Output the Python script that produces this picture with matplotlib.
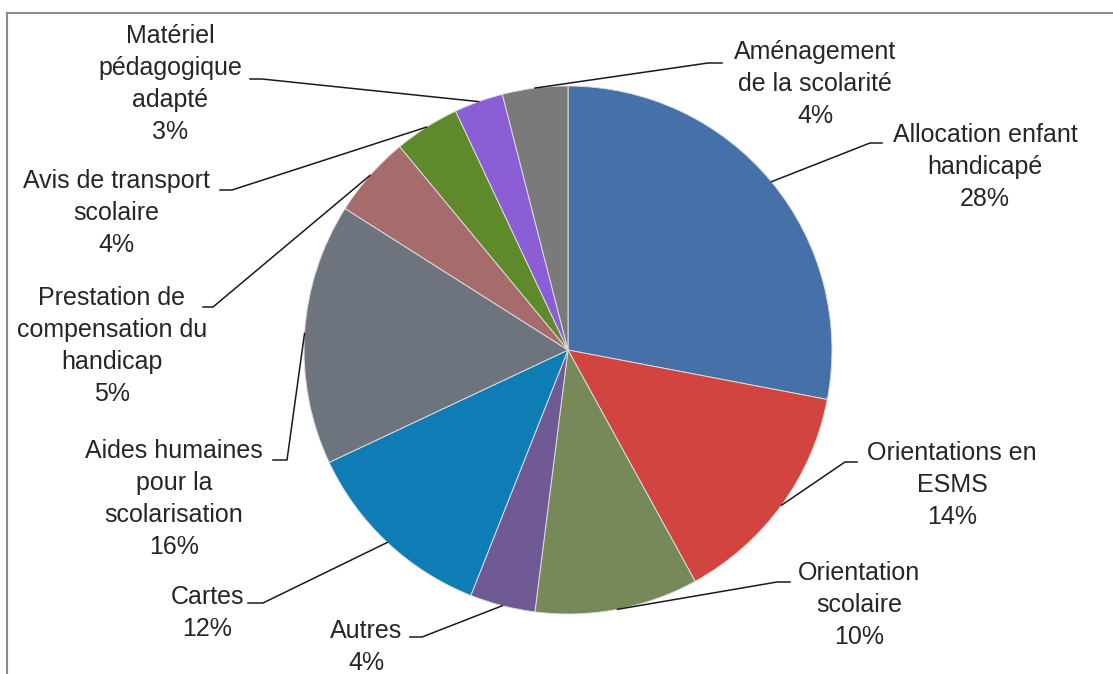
import numpy as np
import matplotlib
matplotlib.use("Agg")
import matplotlib.pyplot as plt

# Donnees
categories = ["Allocation enfant\nhandicapé", "Orientations en\nESMS", "Orientation\nscolaire",
              "Autres", "Cartes", "Aides humaines\npour la\nscolarisation",
              "Prestation de\ncompensation du\nhandicap", "Avis de transport\nscolaire",
              "Matériel\npédagogique\nadapté", "Aménagement\nde la scolarité"]
valeurs = [28, 14, 10, 4, 12, 16, 5, 4, 3, 4]
couleurs = ["#4571A8", "#D2443F", "#778859", "#705A95", "#0F7DB5",
            "#6E747E", "#A66B6B", "#5E8A2B", "#8C5ED6", "#7A7A7A"]

# position des etiquettes (pixels) et petit trait horizontal (x debut, x fin, y)
pos_etiq = [(985, 167), (952, 485), (859, 605), (366, 647), (207, 613),
            (174, 499), (112, 346), (116, 213), (170, 84), (815, 84)]
traits = [(882, 870, 143), (857, 845, 462), (790, 777, 582), (410, 422, 637), (248, 263, 603),
          (273, 287, 460), (203, 213, 307), (220, 232, 190), (250, 262, 79), (722, 708, 63)]

W, H = 1113, 674
cx, cy, R = 568, 350, 264


def px(x, y):
    return (x - cx) / R, (cy - y) / R


plt.rcParams["font.family"] = ["Liberation Sans", "DejaVu Sans"]
fig = plt.figure(figsize=(W / 100, H / 100), dpi=100)
ax = fig.add_axes([0, 0, 1, 1])

wedges, _ = ax.pie(valeurs, colors=couleurs, startangle=90, counterclock=False,
                   radius=1, center=(0, 0), frame=True,
                   wedgeprops=dict(edgecolor="#dcdcdc", linewidth=0.7))
ax.set_xlim(-cx / R, (W - cx) / R)
ax.set_ylim(-(H - cy) / R, cy / R)
ax.axis("off")

total = sum(valeurs)
for w, cat, v, (lx, ly), (x0, x1, yt) in zip(wedges, categories, valeurs, pos_etiq, traits):
    ang = np.deg2rad((w.theta1 + w.theta2) / 2)
    ex, ey = np.cos(ang), np.sin(ang)
    a = px(x0, yt)
    b = px(x1, yt)
    ax.plot([a[0], b[0], ex], [a[1], b[1], ey], color="#1a1a1a", lw=1.1, zorder=3)
    tx, ty = px(lx, ly)
    ax.text(tx, ty, f"{cat}\n{v / total * 100:.0f}%", ha="center", va="center",
            fontsize=18, color="#262626", linespacing=1.42)

# cadre
fig.add_artist(plt.Line2D([7 / W, 1], [1 - 13 / H, 1 - 13 / H], color="#8c8c8c", lw=1.5))
fig.add_artist(plt.Line2D([7 / W, 7 / W], [0, 1 - 13 / H], color="#8c8c8c", lw=1.5))

plt.savefig("out.png", dpi=100)
